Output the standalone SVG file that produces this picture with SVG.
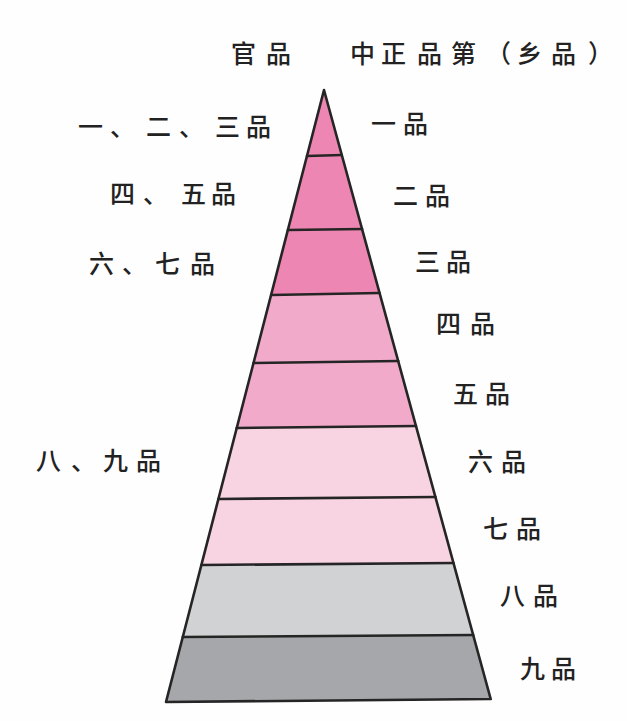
<svg xmlns="http://www.w3.org/2000/svg" width="627" height="721" viewBox="0 0 627 721">
<style>
.t{font-family:"Noto Sans CJK SC","Noto Sans CJK JP",sans-serif;font-size:25px;font-weight:500;fill:#222;}
.ln{fill:none;stroke:#252525;stroke-width:2.6;stroke-linejoin:round;stroke-linecap:round;}
.b1{fill:#ee86b3;}
.b2{fill:#f2aacb;}
.b3{fill:#f8d3e1;}
.b4{fill:#d1d2d4;}
.b5{fill:#a6a7aa;}
</style>
<rect width="627" height="721" fill="#fefefe"/>
<g id="pyramid">
<g id="band1"><polygon class="b1" points="324,90 341.8,155 307,156"/></g>
<g id="band2"><polygon class="b1" points="307,156 341.8,155 362.1,229 287.9,230"/></g>
<g id="band3"><polygon class="b1" points="287.9,230 362.1,229 379.6,293 271.1,295"/></g>
<g id="band4"><polygon class="b2" points="271.1,295 379.6,293 398.2,361 253.5,363"/></g>
<g id="band5"><polygon class="b2" points="253.5,363 398.2,361 416,426 236.7,428"/></g>
<g id="band6"><polygon class="b3" points="236.7,428 416,426 435.4,497 218.4,499"/></g>
<g id="band7"><polygon class="b3" points="218.4,499 435.4,497 453.5,563 201.4,565"/></g>
<g id="band8"><polygon class="b4" points="201.4,565 453.5,563 473.2,635 182.8,637"/></g>
<g id="band9"><polygon class="b5" points="182.8,637 473.2,635 490.7,699 166,702"/></g>
</g>
<g id="connectors">
<polygon class="ln" points="324,90 490.7,699 166,702"/>
<line class="ln" x1="307" y1="156" x2="341.8" y2="155"/>
<line class="ln" x1="287.9" y1="230" x2="362.1" y2="229"/>
<line class="ln" x1="271.1" y1="295" x2="379.6" y2="293"/>
<line class="ln" x1="253.5" y1="363" x2="398.2" y2="361"/>
<line class="ln" x1="236.7" y1="428" x2="416" y2="426"/>
<line class="ln" x1="218.4" y1="499" x2="435.4" y2="497"/>
<line class="ln" x1="201.4" y1="565" x2="453.5" y2="563"/>
<line class="ln" x1="182.8" y1="637" x2="473.2" y2="635"/>
</g>
<g id="header-left"><text class="t" x="231 266" y="63">官品</text></g>
<g id="header-right"><text class="t" x="350 381 417 451 486 517 551 588" y="63">中正品第（乡品）</text></g>
<g id="left-1"><text class="t" x="78 110 146 179 215 246" y="136">一、二、三品</text></g>
<g id="left-2"><text class="t" x="110 143 181 211" y="203">四、五品</text></g>
<g id="left-3"><text class="t" x="89 122 155 190" y="273">六、七品</text></g>
<g id="left-4"><text class="t" x="36 71 103 136" y="470">八、九品</text></g>
<g id="right-1"><text class="t" x="371 403" y="133">一品</text></g>
<g id="right-2"><text class="t" x="393 425" y="205">二品</text></g>
<g id="right-3"><text class="t" x="415 446" y="271">三品</text></g>
<g id="right-4"><text class="t" x="436 470" y="333">四品</text></g>
<g id="right-5"><text class="t" x="453 485" y="403">五品</text></g>
<g id="right-6"><text class="t" x="468 501" y="471">六品</text></g>
<g id="right-7"><text class="t" x="483 516" y="538">七品</text></g>
<g id="right-8"><text class="t" x="500 533" y="605">八品</text></g>
<g id="right-9"><text class="t" x="520 551" y="678">九品</text></g>
</svg>
